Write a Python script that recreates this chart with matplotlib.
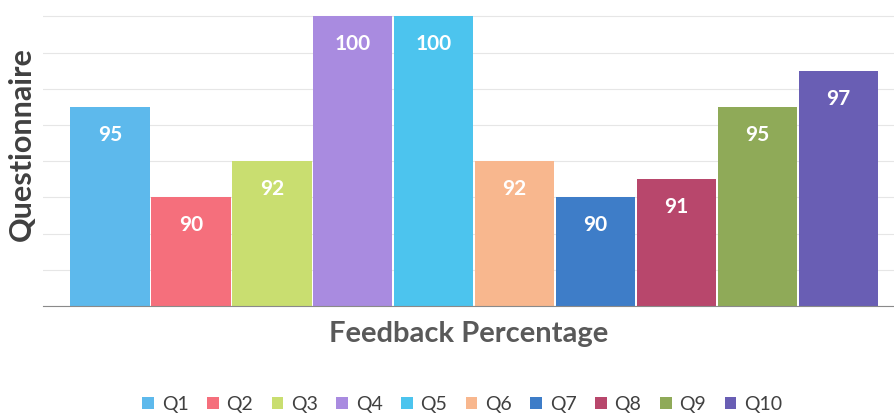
import matplotlib.pyplot as plt
from matplotlib.patches import Patch

questions = ['Q1', 'Q2', 'Q3', 'Q4', 'Q5', 'Q6', 'Q7', 'Q8', 'Q9', 'Q10']
feedback = [95, 90, 92, 100, 100, 92, 90, 91, 95, 97]
colors = ['#5DB9EC', '#F56F7C', '#C9DE70', '#A98BE0', '#4CC4EE',
          '#F8B78E', '#3E7DC8', '#B8476C', '#8FAA58', '#695EB4']

plt.rcParams['font.family'] = ['Lato', 'DejaVu Sans']

fig = plt.figure(figsize=(8.94, 4.18), dpi=100)
ax = fig.add_axes([0.048, 0.268, 0.952, 0.732])

x = list(range(len(questions)))
bars = ax.bar(x, feedback, width=0.98, color=colors, zorder=2)

for xi, v in zip(x, feedback):
    ax.text(xi, v - 1.55, str(v), ha='center', va='center', color='white',
            fontsize=15, fontweight='bold', zorder=3)

ax.set_xlim(-0.83, 9.69)
ax.set_ylim(84, 100.9)
ax.set_yticks(range(84, 101, 2))
ax.yaxis.grid(True, color='#e6e6e6', linewidth=0.8, zorder=0)
ax.set_xticks([])
ax.tick_params(axis='y', length=0, labelleft=False)
for s in ['top', 'right', 'left']:
    ax.spines[s].set_visible(False)
ax.spines['bottom'].set_color('#8a8a8a')

ax.set_ylabel('Questionnaire', fontsize=22, fontweight='bold', color='#404040')
ax.yaxis.set_label_coords(-0.008, 0.53)
ax.set_xlabel('Feedback Percentage', fontsize=21, fontweight='bold', color='#595959', labelpad=11)

handles = [Patch(facecolor=c, label=q) for q, c in zip(questions, colors)]
fig.legend(handles=handles, loc='center', bbox_to_anchor=(0.517, 0.033), ncol=10,
           frameon=False, fontsize=14, handlelength=0.6, handleheight=0.6,
           handletextpad=0.4, columnspacing=0.95, labelcolor='#404040')

fig.savefig('out.png', dpi=100)
